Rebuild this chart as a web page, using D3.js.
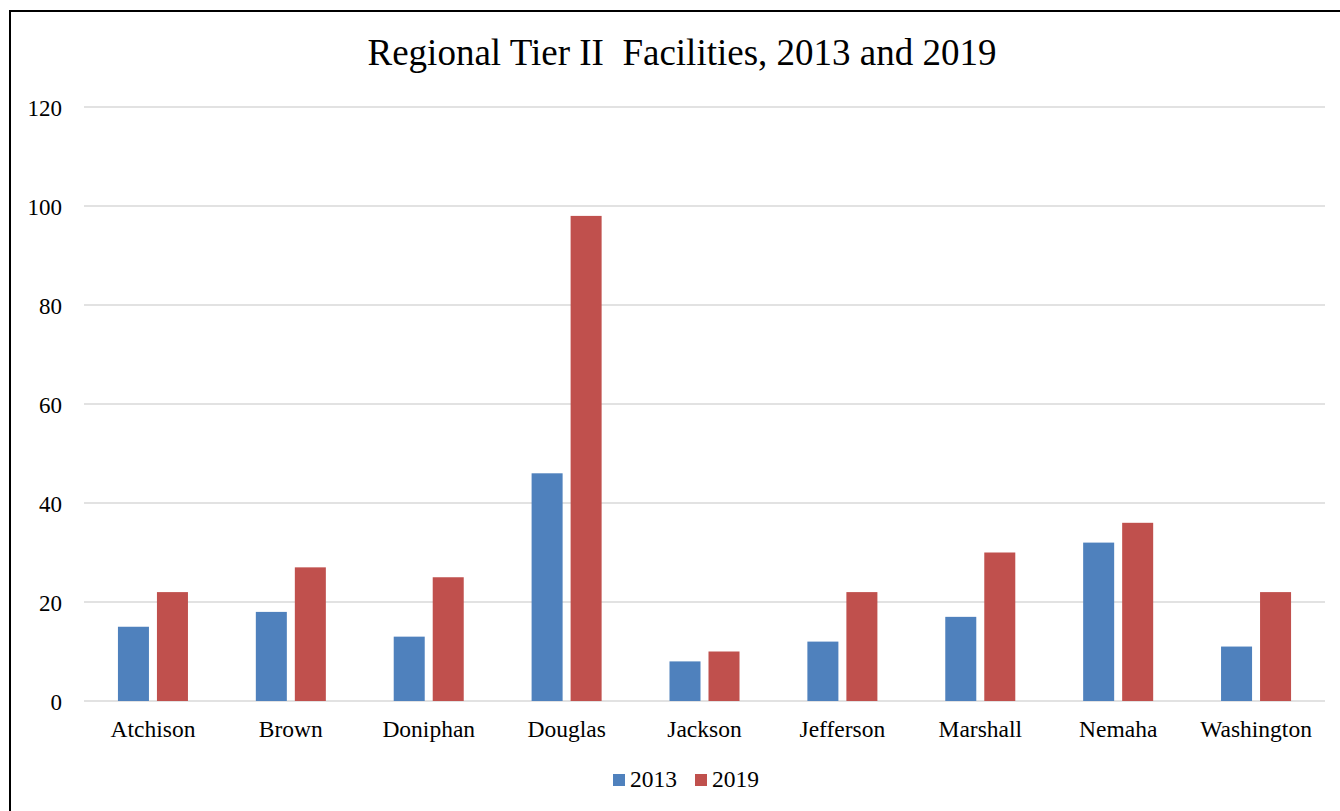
<!DOCTYPE html>
<html lang="en">
  <meta charset="utf-8">
  <style>
    body{ margin: 0; background: #fff; }
    text{ font-family: "Liberation Serif", "Times New Roman", serif; fill: #000; }
  </style>
  <body>
    <svg width="1340" height="811"></svg>

    <script src="https://d3js.org/d3.v7.min.js"></script>
    <script>
      let categories = ['Atchison','Brown','Doniphan','Douglas','Jackson','Jefferson','Marshall','Nemaha','Washington']
      let seriesNames = ['2013','2019']
      let values2013 = [15, 18, 13, 46, 8, 12, 17, 32, 11]
      let values2019 = [22, 27, 25, 98, 10, 22, 30, 36, 22]
      let yTicks = [0, 20, 40, 60, 80, 100, 120]
      let colors = ['#4F81BD', '#C0504D']

      let data = categories.map((c, i) => ({ key: c, values: [values2013[i], values2019[i]] }))

      let svg = d3.select('svg')

      // outer frame
      svg.append('rect')
        .attr('x', 10).attr('y', 11)
        .attr('width', 1360).attr('height', 830)
        .attr('fill', 'none')
        .attr('stroke', '#000')
        .attr('stroke-width', 2)

      svg.append('text')
        .attr('x', 682).attr('y', 65)
        .attr('text-anchor', 'middle')
        .style('font-size', '37px')
        .style('white-space', 'pre')
        .text('Regional Tier II  Facilities, 2013 and 2019')

      let plotLeft = 84, plotRight = 1325, plotTop = 107, plotBottom = 701

      let x = d3.scaleBand().domain(categories).range([plotLeft, plotRight]).paddingInner(0).paddingOuter(0)
      let x1 = d3.scaleBand().domain(seriesNames).range([0, x.bandwidth()]).paddingInner(0.205).paddingOuter(0.87)
      let y = d3.scaleLinear().domain([0, 120]).range([plotBottom, plotTop])

      // gridlines
      svg.append('g')
        .selectAll('line')
        .data(yTicks).enter()
        .append('line')
        .attr('x1', plotLeft).attr('x2', plotRight)
        .attr('y1', d => y(d)).attr('y2', d => y(d))
        .attr('stroke', '#d9d9d9')
        .attr('stroke-width', 1.5)

      let yAxis = svg.append('g')
        .attr('transform', `translate(${plotLeft - 22},0)`)
        .call(d3.axisLeft(y).tickValues(yTicks).tickSize(0).tickPadding(0))
      yAxis.select('.domain').remove()
      yAxis.selectAll('text').style('font-size', '23px').attr('dy', '0.35em')

      let groups = svg.append('g')
        .selectAll('g')
        .data(data).enter()
        .append('g')
        .attr('transform', d => `translate(${x(d.key)},0)`)

      groups.selectAll('rect')
        .data(d => d.values.map((v, i) => ({ name: seriesNames[i], value: v, i: i })))
        .enter()
        .append('rect')
        .attr('x', d => x1(d.name))
        .attr('width', x1.bandwidth())
        .attr('y', d => y(d.value))
        .attr('height', d => y(0) - y(d.value))
        .attr('fill', d => colors[d.i])

      let xAxis = svg.append('g')
        .attr('transform', `translate(0,${plotBottom})`)
        .call(d3.axisBottom(x).tickSize(0).tickPadding(19))
      xAxis.select('.domain').remove()
      xAxis.selectAll('text').style('font-size', '23.5px')

      // legend
      let legend = svg.append('g')
        .selectAll('g')
        .data(seriesNames).enter()
        .append('g')
        .attr('transform', (d, i) => `translate(${613 + i * 82},774)`)
      legend.append('rect')
        .attr('width', 12).attr('height', 12)
        .attr('fill', (d, i) => colors[i])
      legend.append('text')
        .attr('x', 17).attr('y', 13)
        .style('font-size', '23.5px')
        .text(d => d)
    </script>
</body>
</html>
